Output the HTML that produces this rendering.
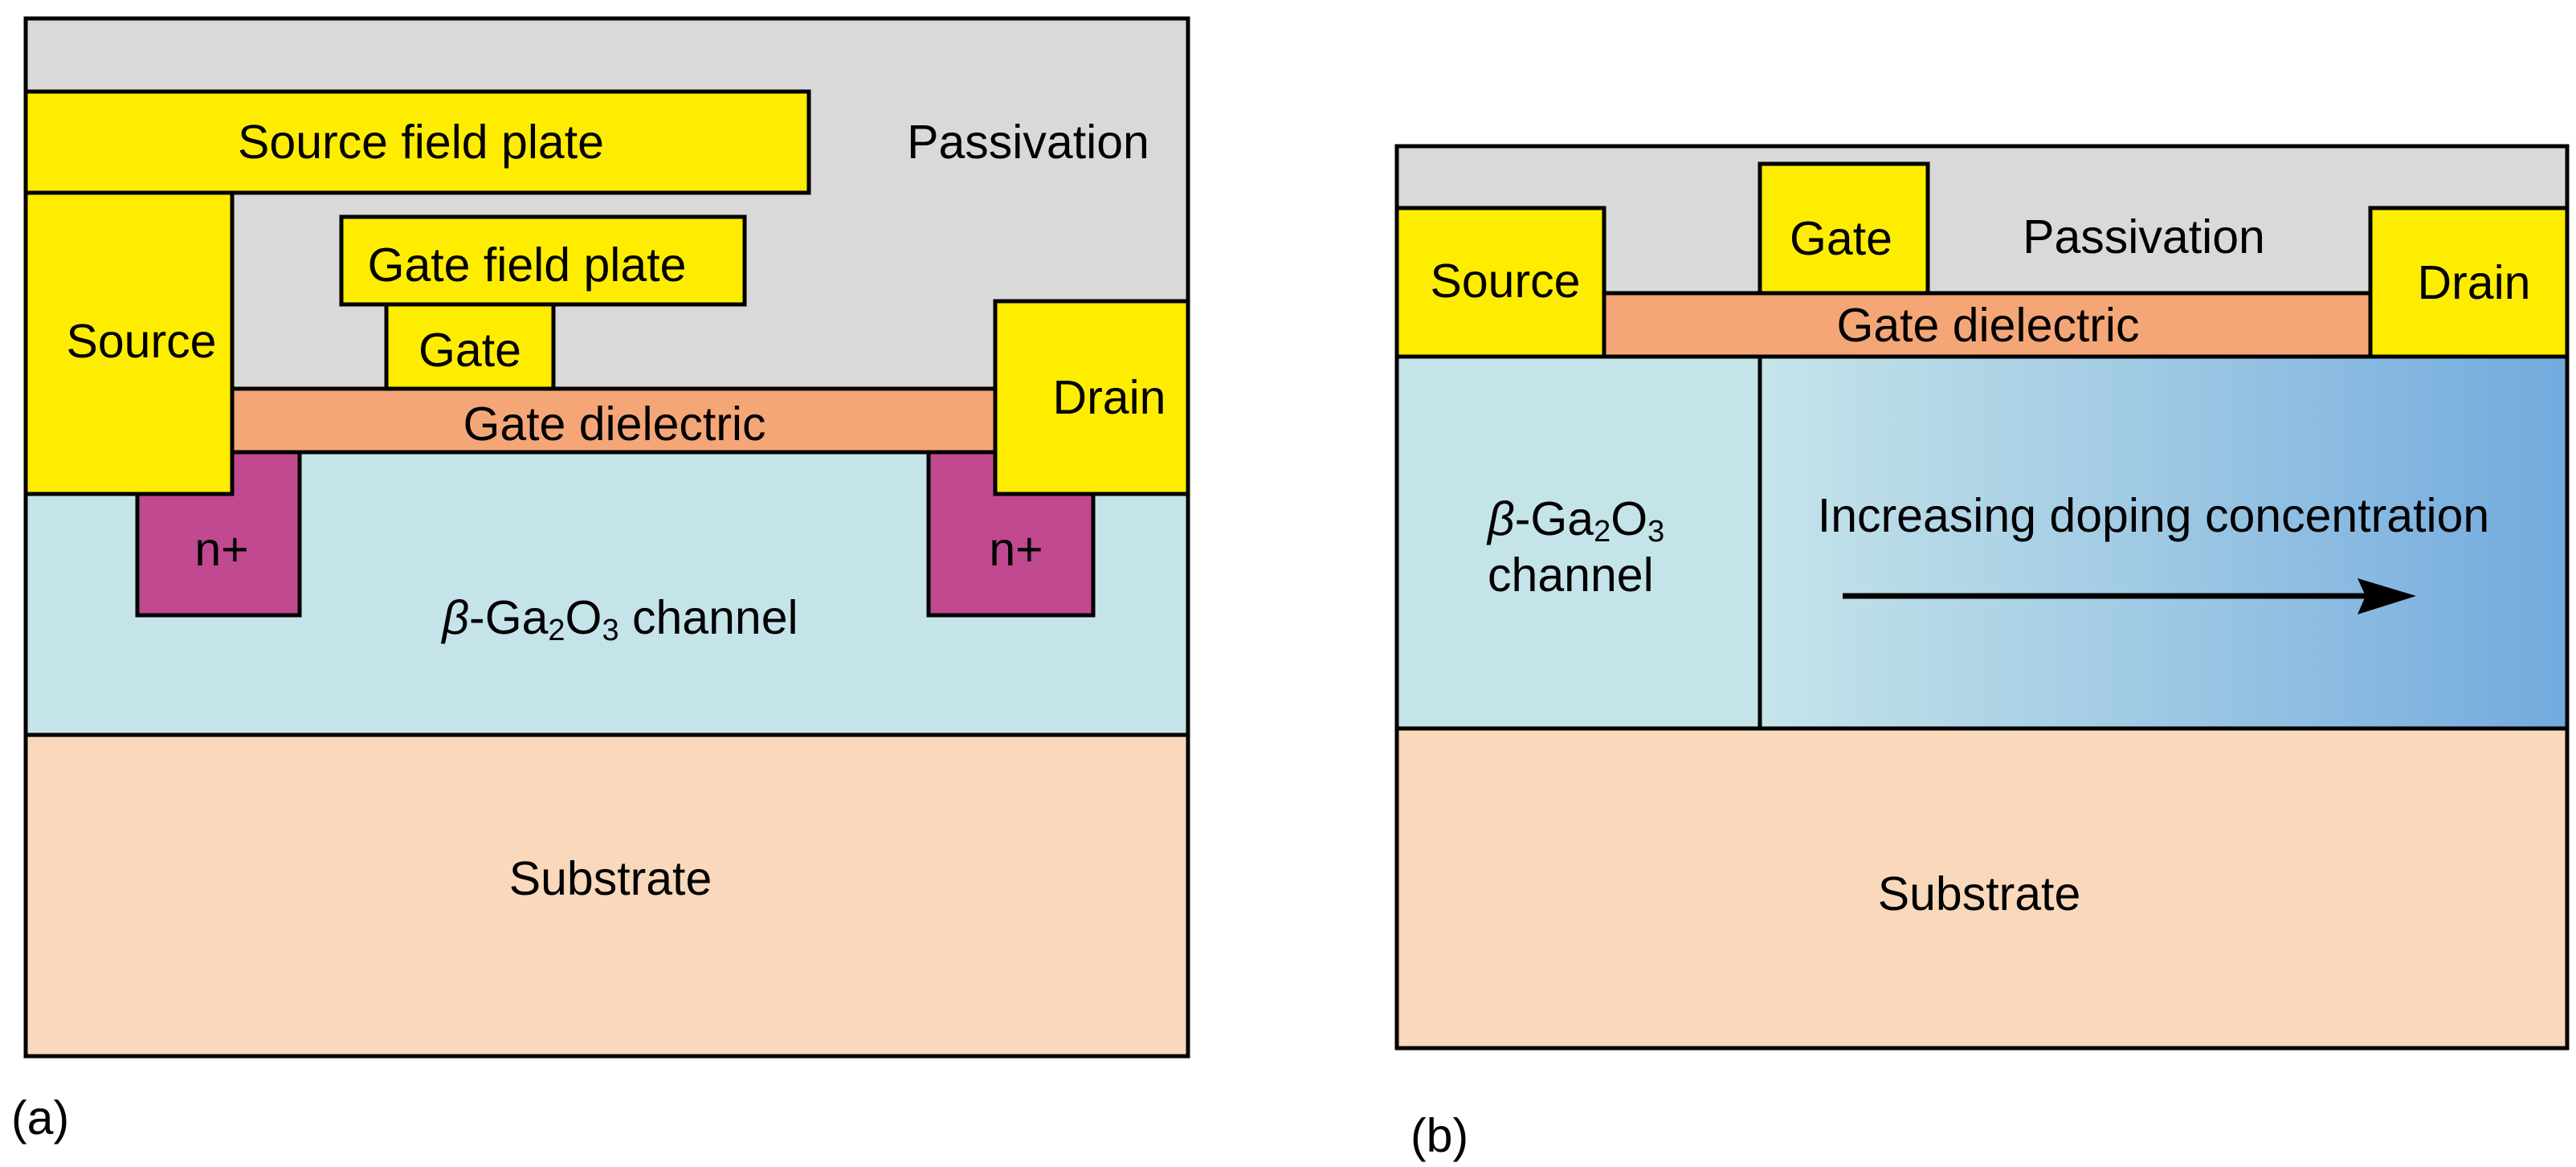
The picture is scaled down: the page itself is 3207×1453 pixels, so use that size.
<!DOCTYPE html>
<html><head><meta charset="utf-8"><style>
html,body{margin:0;padding:0;background:#fff;}
svg{display:block;}
text{font-family:"Liberation Sans",Arial,sans-serif;font-size:59px;fill:#000;}
</style></head><body>
<svg width="3207" height="1453" viewBox="0 0 3207 1453" xmlns="http://www.w3.org/2000/svg">
<defs>
<linearGradient id="g" x1="0" x2="1" y1="0" y2="0">
<stop offset="0" stop-color="#c6e4ea"/>
<stop offset="0.45" stop-color="#a2cbe4"/>
<stop offset="1" stop-color="#72aade"/>
</linearGradient>
</defs>
<g stroke="#000" stroke-width="5">
<!-- Panel a -->
<rect x="32" y="23" width="1447" height="1292" fill="#d9d9d9"/>
<rect x="32" y="915" width="1447" height="400" fill="#f9d8bb"/>
<rect x="32" y="563" width="1447" height="352" fill="#c5e4ea"/>
<rect x="171" y="563" width="202" height="203" fill="#c0498f"/>
<rect x="1156" y="563" width="205" height="203" fill="#c0498f"/>
<rect x="289" y="484" width="950" height="79" fill="#f4a677"/>
<rect x="32" y="240" width="257" height="375" fill="#ffed00"/>
<rect x="32" y="114" width="975" height="126" fill="#ffed00"/>
<rect x="425" y="270" width="502" height="109" fill="#ffed00"/>
<rect x="481" y="379" width="208" height="105" fill="#ffed00"/>
<rect x="1239" y="375" width="240" height="240" fill="#ffed00"/>
<!-- Panel b -->
<rect x="1739" y="182" width="1457" height="1123" fill="#d9d9d9"/>
<rect x="1739" y="907" width="1457" height="398" fill="#f9d8bb"/>
<rect x="1739" y="444" width="452" height="463" fill="#c5e4ea"/>
<rect x="2191" y="444" width="1005" height="463" fill="url(#g)"/>
<rect x="1997" y="365" width="954" height="79" fill="#f4a677"/>
<rect x="1739" y="259" width="258" height="185" fill="#ffed00"/>
<rect x="2191" y="204" width="209" height="161" fill="#ffed00"/>
<rect x="2951" y="259" width="245" height="185" fill="#ffed00"/>
</g>
<line x1="2294" y1="742" x2="2945" y2="742" stroke="#000" stroke-width="7"/>
<path d="M2935,720 L3008,742 L2935,765 L2945,742 Z" fill="#000"/>
<g text-anchor="middle" dominant-baseline="central">
<text x="524" y="177">Source field plate</text>
<text x="1280" y="177">Passivation</text>
<text x="656" y="330">Gate field plate</text>
<text x="176" y="425">Source</text>
<text x="585" y="436">Gate</text>
<text x="1381" y="495">Drain</text>
<text x="765" y="528">Gate dielectric</text>
<text x="276" y="684" font-size="72">n+</text>
<text x="1265" y="684" font-size="72">n+</text>
<text x="772" y="769"><tspan font-style="italic">β</tspan>-Ga<tspan font-size="38" dy="16">2</tspan><tspan dy="-16">O</tspan><tspan font-size="38" dy="16">3</tspan><tspan dy="-16"> channel</tspan></text>
<text x="760" y="1094">Substrate</text>
<text x="2669" y="295">Passivation</text>
<text x="2292" y="297">Gate</text>
<text x="1874" y="350">Source</text>
<text x="3080" y="352">Drain</text>
<text x="2475" y="405">Gate dielectric</text>
<text x="2681" y="642">Increasing doping concentration</text>
<text x="2464" y="1113">Substrate</text>
</g>
<g dominant-baseline="central">
<text x="1852" y="646"><tspan font-style="italic">β</tspan>-Ga<tspan font-size="38" dy="16">2</tspan><tspan dy="-16">O</tspan><tspan font-size="38" dy="16">3</tspan></text>
<text x="1852" y="716">channel</text>
<text x="14" y="1392" font-size="66">(a)</text>
<text x="1756" y="1414" font-size="66">(b)</text>
</g>
</svg>
</body></html>
